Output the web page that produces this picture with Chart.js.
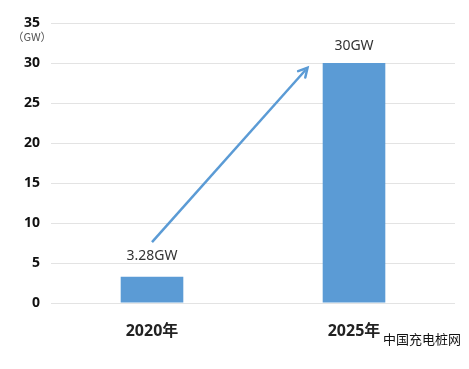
<!DOCTYPE html>
<html><head><meta charset="utf-8">
<script src="https://cdn.jsdelivr.net/npm/chart.js@4"></script>
<style>html,body{margin:0;padding:0;background:#fff;}#wrap{position:relative;width:469px;height:369px;}</style>
</head><body><div id="wrap"><canvas id="c" width="469" height="369"></canvas></div>
<script>
const categories = ["2020年", "2025年"];
const capacityGW = [3.28, 30];
const valueLabels = ["3.28GW", "30GW"];
const yTicks = [0, 5, 10, 15, 20, 25, 30, 35];
const unitLabel = "（GW）";
const watermark = "中国充电桩网";
// arrow from (category 0, 7.6) to (category 0.77, 29.4)
const arrowFrom = [0, 7.6];
const arrowTo = [0.77, 29.4];

const FONT = "'Noto Sans','Noto Sans CJK SC',sans-serif";
const BLUE = "#5b9bd5";

const overlay = {
  id: "overlay",
  afterDatasetsDraw(chart) {
    const ctx = chart.ctx;
    const xs = chart.scales.x, ys = chart.scales.y;
    const meta = chart.getDatasetMeta(0);
    ctx.save();
    // value labels
    ctx.fillStyle = "#333";
    ctx.font = "14px " + FONT;
    ctx.textAlign = "center";
    ctx.textBaseline = "middle";
    meta.data.forEach((bar, i) => {
      const yOff = i === 0 ? 21 : 17;
      ctx.fillText(valueLabels[i], bar.x, bar.y - yOff);
    });
    // arrow
    const catW = xs.getPixelForValue(1) - xs.getPixelForValue(0);
    const x1 = xs.getPixelForValue(0) + (arrowFrom[0]) * catW, y1 = ys.getPixelForValue(arrowFrom[1]);
    const x2 = xs.getPixelForValue(0) + (arrowTo[0]) * catW, y2 = ys.getPixelForValue(arrowTo[1]);
    ctx.strokeStyle = BLUE; ctx.fillStyle = BLUE; ctx.lineWidth = 2.5;
    const ang = Math.atan2(y2 - y1, x2 - x1);
    ctx.beginPath(); ctx.moveTo(x1, y1); ctx.lineTo(x2 - 3*Math.cos(ang), y2 - 3*Math.sin(ang)); ctx.stroke();
    ctx.lineWidth = 2.5; ctx.lineCap = "round";
    ctx.beginPath();
    ctx.moveTo(x2 - 10*Math.cos(ang - 0.5), y2 - 10*Math.sin(ang - 0.5));
    ctx.lineTo(x2, y2);
    ctx.lineTo(x2 - 10*Math.cos(ang + 0.5), y2 - 10*Math.sin(ang + 0.5));
    ctx.stroke();
    // unit label
    ctx.fillStyle = "#555";
    ctx.font = "11px 'Noto Sans CJK SC',sans-serif";
    ctx.textAlign = "center";
    ctx.fillText(unitLabel, 32, ys.getPixelForValue(35) + 14);
    // watermark
    ctx.fillStyle = "#111";
    ctx.font = "13px 'Noto Sans CJK SC',sans-serif";
    ctx.textAlign = "left";
    ctx.fillText(watermark, 383, 339);
    ctx.restore();
  }
};

new Chart(document.getElementById("c"), {
  type: "bar",
  data: {
    labels: categories,
    datasets: [{ data: capacityGW, backgroundColor: BLUE, borderWidth: 0,
      categoryPercentage: 1, barPercentage: 0.31 }]
  },
  options: {
    responsive: false, animation: false, devicePixelRatio: 1,
    layout: { padding: { top: 23, right: 14, left: 0, bottom: 0 } },
    plugins: { legend: { display: false }, tooltip: { enabled: false } },
    scales: {
      x: {
        grid: { display: false }, border: { display: false },
        ticks: { color: "#222", font: { family: FONT, size: 16, weight: "bold" }, padding: 11 },
        afterFit(s) { s.height = 66; }
      },
      y: {
        min: 0, max: 35,
        afterBuildTicks(s) { s.ticks = yTicks.map(v => ({ value: v })); },
        grid: { color: "#e3e3e3", drawTicks: false, lineWidth: 1 },
        border: { display: false },
        ticks: { color: "#111", font: { family: FONT, size: 14, weight: "bold" }, padding: 11 },
        afterFit(s) { s.width = 51; }
      }
    }
  },
  plugins: [overlay]
});
</script></body></html>
